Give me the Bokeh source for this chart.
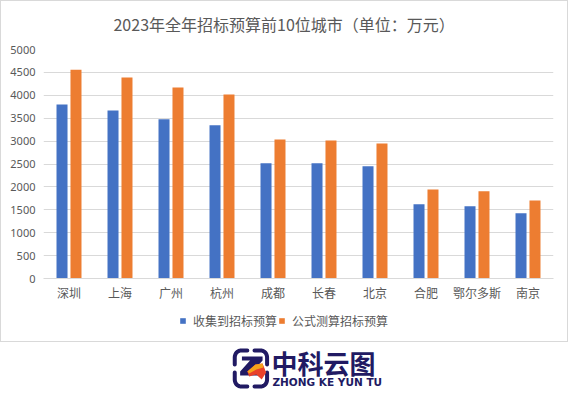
import numpy as np
from bokeh.plotting import figure
from bokeh.models import (Range1d, FactorRange, FixedTicker, Legend,
                          LegendItem, ColumnDataSource)
from bokeh.transform import dodge
from bokeh.layouts import column
from bokeh.core.properties import value
from bokeh.embed import file_html
from bokeh.resources import INLINE

# ---------------- data ----------------
cities = ["深圳", "上海", "广州", "杭州", "成都", "长春", "北京", "合肥", "鄂尔多斯", "南京"]
collected = [3800, 3670, 3475, 3345, 2515, 2515, 2450, 1620, 1580, 1425]
formula = [4560, 4390, 4170, 4020, 3035, 3015, 2950, 1945, 1905, 1705]
y_ticks = [0, 500, 1000, 1500, 2000, 2500, 3000, 3500, 4000, 4500, 5000]
series_names = ["收集到招标预算", "公式测算招标预算"]
title_text = "2023年全年招标预算前10位城市（单位：万元）"
logo_cn = "中科云图"
logo_en = "ZHONG KE YUN TU"

CJK = "Noto Sans CJK SC"
GREY = "#595959"
GRID = "#d9d9d9"
BLUE = "#4472c4"
ORANGE = "#ed7d31"
NAVY = "#211a63"
W = 568

def strip(height):
    f = figure(width=W, height=height, x_range=Range1d(0, W), y_range=Range1d(height, 0),
               output_backend="svg", toolbar_location=None, min_border=0)
    f.axis.visible = False
    f.grid.visible = False
    f.outline_line_color = None
    f.background_fill_color = None
    f.border_fill_color = None
    return f

# ---------------- title strip ----------------
t = strip(38)
t.text(x=[268], y=[23], text=[title_text], text_font=value(CJK), text_font_size="16px",
       text_color=GREY, text_align="center", text_baseline="middle")

# ---------------- chart ----------------
src = ColumnDataSource(dict(city=cities, collected=collected, formula=formula))

p = figure(width=W, height=265,
           x_range=FactorRange(factors=cities, range_padding=0),
           y_range=Range1d(0, 5000),
           output_backend="svg", toolbar_location=None,
           min_border_left=43, min_border_right=15,
           min_border_top=11, min_border_bottom=25)
p.outline_line_color = None
p.background_fill_color = None
p.border_fill_color = None

p.vbar(x=dodge("city", -0.137, range=p.x_range), top="collected", width=0.216,
       source=src, fill_color=BLUE, line_color=None)
p.vbar(x=dodge("city", 0.137, range=p.x_range), top="formula", width=0.216,
       source=src, fill_color=ORANGE, line_color=None)

p.yaxis.ticker = FixedTicker(ticks=y_ticks)
p.yaxis.axis_line_color = None
p.yaxis.major_tick_line_color = None
p.yaxis.minor_tick_line_color = None
p.yaxis.major_tick_out = 0
p.yaxis.major_label_standoff = 8
p.yaxis.major_label_text_font = "Noto Sans"
p.yaxis.major_label_text_font_size = "11px"
p.yaxis.major_label_text_color = GREY

p.xaxis.axis_line_color = GRID
p.xaxis.major_tick_line_color = None
p.xaxis.minor_tick_line_color = None
p.xaxis.major_tick_out = 0
p.xaxis.major_label_standoff = 5
p.xaxis.major_label_text_font = CJK
p.xaxis.major_label_text_font_size = "12px"
p.xaxis.major_label_text_color = GREY

p.xgrid.grid_line_color = None
p.ygrid.grid_line_color = GRID
p.ygrid.ticker = FixedTicker(ticks=y_ticks)

# ---------------- legend strip (swatches mirror the two bar series) ----------------
ls = strip(38)
k1 = ls.quad(left=[-20], right=[-10], top=[-20], bottom=[-10], fill_color=BLUE, line_color=None)
k2 = ls.quad(left=[-20], right=[-10], top=[-20], bottom=[-10], fill_color=ORANGE, line_color=None)
legend = Legend(items=[LegendItem(label=series_names[0], renderers=[k1]),
                       LegendItem(label=series_names[1], renderers=[k2])],
                location=(136, 12), orientation="horizontal",
                glyph_width=7, glyph_height=7, label_standoff=7, spacing=1,
                padding=0, margin=0, label_height=14,
                border_line_color=None, background_fill_color=None,
                label_text_font=CJK, label_text_font_size="12px",
                label_text_color=GREY)
ls.add_layout(legend, "center")

# ---------------- logo strip ----------------
lg = strip(56)
cx, cy, h, rr, gap = 231, 27, 18, 7, 4
def corner(sx, sy):
    a = np.linspace(0, np.pi / 2, 12)
    ax = cx + sx * (h - rr + rr * np.cos(a))
    ay = cy + sy * (h - rr + rr * np.sin(a))
    return [cx + sx * h] + list(ax) + [cx + sx * gap], [cy + sy * gap] + list(ay) + [cy + sy * h]
segs = [corner(sx, sy) for sx in (-1, 1) for sy in (-1, 1)]
lg.multi_line(xs=[s[0] for s in segs], ys=[s[1] for s in segs], line_color=NAVY,
              line_width=4, line_cap="round")
lg.patch(x=[221, 244, 244, 233, 244, 244, 219, 219, 230, 221],
         y=[15, 15, 19, 30, 30, 34, 34, 30, 19, 19], fill_color=NAVY, line_color=None)
lg.patch(x=[227, 236, 244, 248, 243, 237, 229],
         y=[30, 23, 22, 31, 38, 33, 35], fill_color="#e8402a", line_color=None)
lg.patch(x=[227, 236, 244, 245, 237, 229],
         y=[30, 23, 22, 26, 28, 32], fill_color="#f5a21b", line_color=None)
lg.text(x=[254], y=[21], text=[logo_cn], text_font=value(CJK), text_font_style="bold",
        text_font_size="26px", text_color=NAVY, text_baseline="middle", text_align="left")
lg.text(x=[255], y=[40.5], text=[logo_en], text_font=value("DejaVu Sans"), text_font_style="bold",
        text_font_size="10.5px", text_color=NAVY, text_baseline="middle", text_align="left")

g = "linear-gradient(#d9d9d9,#d9d9d9)"
frame_css = (f"{g} 0 0/100% 1px no-repeat, {g} 0 341px/100% 1px no-repeat, "
             f"{g} 0 0/1px 342px no-repeat, {g} 567px 0/1px 342px no-repeat, white")
layout = column(t, p, ls, lg, spacing=0, styles={"background": frame_css})
open("out.html", "w").write(file_html(layout, INLINE))
